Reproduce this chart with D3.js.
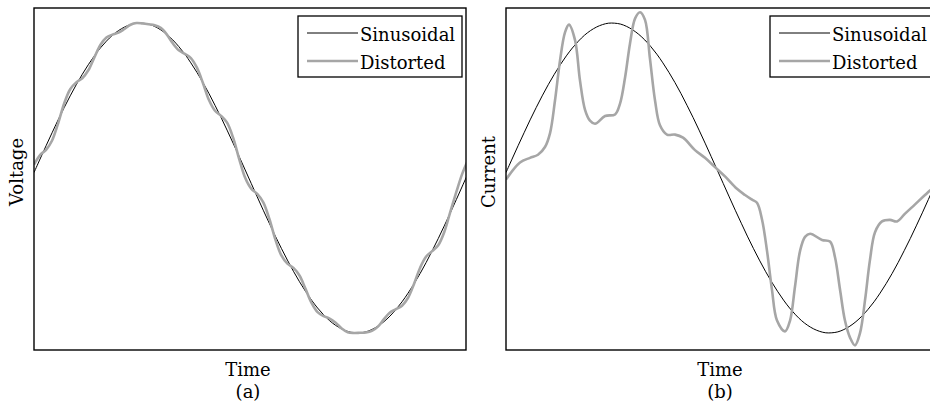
<!DOCTYPE html>
<html>
<head>
<meta charset="utf-8">
<script src="https://cdn.jsdelivr.net/npm/d3@7"></script>
<style>
  body { margin: 0; background: #fff; }
  text { font-family: "DejaVu Serif", serif; font-size: 18px; fill: #000; }
</style>
</head>
<body>
<div id="chart"></div>
<script>
// phase angle (degrees) of the sampled points
var angle = [0, 5, 10, 15, 20, 25, 30, 35, 40, 45, 50, 55, 60, 65, 70, 75, 80, 85, 90,
  95, 100, 105, 110, 115, 120, 125, 130, 135, 140, 145, 150, 155, 160, 165, 170, 175, 180,
  185, 190, 195, 200, 205, 210, 215, 220, 225, 230, 235, 240, 245, 250, 255, 260, 265, 270,
  275, 280, 285, 290, 295, 300, 305, 310, 315, 320, 325, 330, 335, 340, 345, 350, 355, 360];

// ideal waveform (both panels)
var sinusoidal = [0.035, 0.122, 0.208, 0.292, 0.375, 0.454, 0.530, 0.602, 0.669, 0.731,
  0.788, 0.839, 0.883, 0.921, 0.951, 0.974, 0.990, 0.999, 0.999, 0.993, 0.978, 0.956,
  0.927, 0.891, 0.848, 0.799, 0.743, 0.682, 0.616, 0.545, 0.469, 0.391, 0.309, 0.225,
  0.139, 0.052, -0.035, -0.122, -0.208, -0.292, -0.375, -0.454, -0.530, -0.602, -0.669,
  -0.731, -0.788, -0.839, -0.883, -0.921, -0.951, -0.974, -0.990, -0.999, -0.999, -0.993,
  -0.978, -0.956, -0.927, -0.891, -0.848, -0.799, -0.743, -0.682, -0.616, -0.545, -0.469,
  -0.391, -0.309, -0.225, -0.139, -0.052, 0.035];

// (a) distorted voltage, same angles
var voltageDistorted = [0.087, 0.148, 0.182, 0.242, 0.353, 0.481, 0.573, 0.617, 0.644, 0.695,
  0.778, 0.858, 0.906, 0.925, 0.938, 0.962, 0.989, 1.0, 0.997, 0.992,
  0.986, 0.969, 0.927, 0.869, 0.824, 0.801, 0.774, 0.712, 0.613, 0.503,
  0.434, 0.401, 0.357, 0.260, 0.124, 0.001, -0.069, -0.103, -0.157, -0.263,
  -0.396, -0.500, -0.553, -0.580, -0.629, -0.715, -0.806, -0.866, -0.892, -0.907,
  -0.934, -0.971, -0.995, -1.0, -0.999, -0.997, -0.987, -0.959, -0.911, -0.868,
  -0.846, -0.824, -0.773, -0.682, -0.579, -0.507, -0.472, -0.434, -0.349, -0.218,
  -0.090, 0.03, 0.12];

// (b) distorted current, read at its own angles
var currentAngle = [0, 11.6, 19.9, 26.5, 32.3, 36.5, 40.6, 44.8, 48.9, 52.2,
  57.2, 61.3, 65.5, 69.6, 73.8, 82.1, 90.4, 94.5, 98.7, 102.8,
  107.0, 111.1, 115.2, 119.3, 123.5, 127.6, 133.4, 140.1, 146.7, 156.6,
  164.9, 173.2, 181.5, 191.4, 198.1, 203.9, 208.0, 212.2, 216.3, 220.4,
  224.6, 231.2, 235.4, 239.5, 243.7, 247.8, 252.0, 261.9, 268.5, 272.6,
  276.8, 280.9, 285.1, 289.2, 293.4, 297.5, 301.6, 305.8, 311.6, 318.2,
  324.0, 330.7, 339.0, 347.2, 351.4, 358.0];
var currentDistorted = [-0.01, 0.10, 0.13, 0.15, 0.20, 0.29, 0.50, 0.76, 0.94, 0.99,
  0.89, 0.63, 0.44, 0.37, 0.35, 0.40, 0.41, 0.48, 0.65, 0.87,
  1.03, 1.07, 1.02, 0.77, 0.50, 0.34, 0.28, 0.28, 0.26, 0.18,
  0.13, 0.07, 0.01, -0.07, -0.11, -0.14, -0.16, -0.27, -0.47, -0.72,
  -0.92, -0.99, -0.92, -0.70, -0.47, -0.38, -0.36, -0.40, -0.41, -0.51,
  -0.72, -0.92, -1.03, -1.08, -1.00, -0.79, -0.53, -0.35, -0.28, -0.27,
  -0.28, -0.23, -0.17, -0.11, -0.08, -0.03];

var seriesNames = ["Sinusoidal", "Distorted"];
var panels = [
  {yLabel: "Voltage", caption: "(a)", left: 34, ideal: [angle, sinusoidal], dist: [angle, voltageDistorted]},
  {yLabel: "Current", caption: "(b)", left: 506, ideal: [angle, sinusoidal], dist: [currentAngle, currentDistorted]}
];

var width = 432, height = 342, marginTop = 8;

var svg = d3.select("#chart").append("svg")
  .attr("width", 930)
  .attr("height", 410);

var x = d3.scaleLinear().domain([0, 358]).range([0, width]);
var y = d3.scaleLinear().domain([-1.11, 1.097]).range([height, 0]);

var line = d3.line()
  .x(function(d) { return x(d[0]); })
  .y(function(d) { return y(d[1]); })
  .curve(d3.curveCatmullRom.alpha(0.5));

function pairs(s) { return s[0].map(function(a, i) { return [a, s[1][i]]; }); }

panels.forEach(function(p, k) {
  var g = svg.append("g").attr("transform", "translate(" + p.left + "," + marginTop + ")");

  g.append("clipPath").attr("id", "clip" + k)
    .append("rect").attr("width", width).attr("height", height);

  var plot = g.append("g").attr("clip-path", "url(#clip" + k + ")");

  plot.append("path")
    .datum(pairs(p.ideal))
    .attr("fill", "none")
    .attr("stroke", "#000")
    .attr("stroke-width", 1)
    .attr("d", line);

  plot.append("path")
    .datum(pairs(p.dist))
    .attr("fill", "none")
    .attr("stroke", "#a6a6a6")
    .attr("stroke-width", 2.6)
    .attr("d", line);

  // frame
  g.append("rect")
    .attr("width", width).attr("height", height)
    .attr("fill", "none").attr("stroke", "#000").attr("stroke-width", 1.4);

  // y label
  g.append("text")
    .attr("transform", "rotate(-90)")
    .attr("x", -height / 2 + 7)
    .attr("y", -11)
    .style("text-anchor", "middle")
    .text(p.yLabel);

  // x label and caption
  g.append("text")
    .attr("x", width / 2 - 2).attr("y", 368)
    .style("text-anchor", "middle")
    .text("Time");
  g.append("text")
    .attr("x", width / 2 - 2).attr("y", 390)
    .style("text-anchor", "middle")
    .text(p.caption);

  // legend
  var lg = g.append("g").attr("transform", "translate(" + (width - 168) + ",8)");
  lg.append("rect")
    .attr("width", 164).attr("height", 61)
    .attr("fill", "#fff").attr("stroke", "#000").attr("stroke-width", 1.3);
  var item = lg.selectAll(".legend")
    .data(seriesNames)
    .enter().append("g")
    .attr("class", "legend")
    .attr("transform", function(d, i) { return "translate(0," + (i * 28) + ")"; });
  item.append("line")
    .attr("x1", 9).attr("x2", 60)
    .attr("y1", 17).attr("y2", 17)
    .attr("stroke", function(d, i) { return i ? "#a6a6a6" : "#000"; })
    .attr("stroke-width", function(d, i) { return i ? 2.6 : 1; });
  item.append("text")
    .attr("x", 62).attr("y", 25)
    .text(function(d) { return d; });
});
</script>
</body>
</html>
